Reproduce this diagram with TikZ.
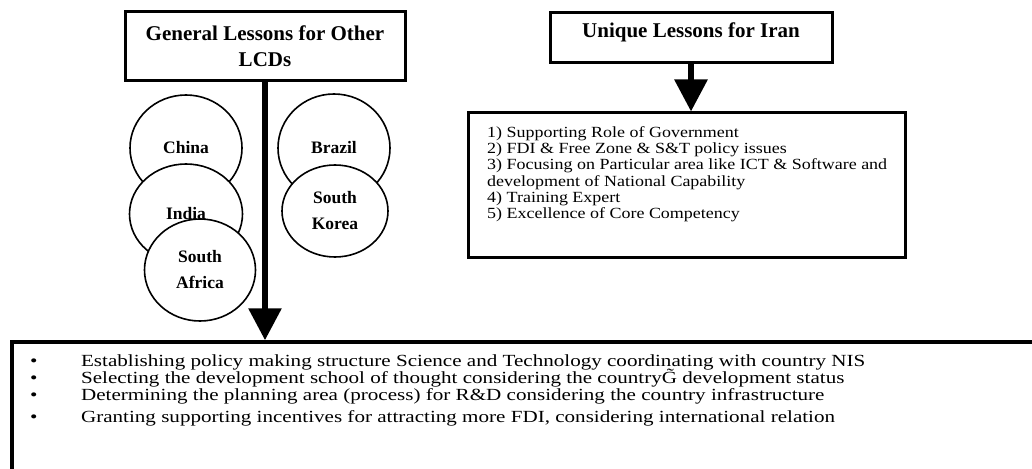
\documentclass[tikz,border=0pt]{standalone}
\usepackage{fontspec}
\setmainfont{Liberation Serif}
\usetikzlibrary{arrows.meta,shapes.geometric}

\newcommand\tightlines{\lineskiplimit=-\maxdimen\lineskip=0pt\relax}

\tikzset{
  titlebox/.style={draw, line width=3pt, align=center, inner sep=0pt,
    font=\fontsize{21}{26}\selectfont\bfseries},
  country/.style={ellipse, draw, fill=white, line width=1.6pt, align=center,
    inner sep=0pt, font=\fontsize{17.5}{26}\selectfont\bfseries},
  framebox/.style={draw, line width=3pt, inner sep=0pt},
  boxtext/.style={anchor=north west, inner sep=0pt, align=left, transform shape},
  bigarrow/.style={line width=6pt, -{Triangle[width=32pt,length=32pt]}},
}

\begin{document}
\begin{tikzpicture}[x=1pt, y=-1pt]
  \clip (0,0) rectangle (1032,468);

  % top boxes
  \node[titlebox, minimum width=280pt, minimum height=69pt] (lcd) at (265,46.5)
    {General Lessons for Other\\LCDs};
  \node[titlebox, minimum width=282pt, minimum height=50pt, text depth=16pt] (iran) at (691,38)
    {Unique Lessons for Iran};

  % unique lessons list
  \node[framebox, minimum width=437pt, minimum height=144pt] (uniq) at (686.5,185) {};
  \node[boxtext, xscale=1.16, font=\fontsize{15.5}{16.3}\selectfont\tightlines] (items) at (487,126)
    {1) Supporting Role of Government\\
     2) FDI \& Free Zone \& S\&T policy issues\\
     3) Focusing on Particular area like ICT \& Software and\\
     development of National Capability\\
     4) Training Expert\\
     5) Excellence of Core Competency};

  % countries
  \node[country, minimum width=112pt, minimum height=106pt] (china) at (186,148) {China};
  \node[country, minimum width=113pt, minimum height=100pt] (india) at (186,214) {India};
  \node[country, minimum width=111pt, minimum height=102pt] (safrica) at (200,270) {South\\Africa};
  \node[country, minimum width=112pt, minimum height=108pt] (brazil) at (334,148) {Brazil};
  \node[country, minimum width=106pt, minimum height=92pt] (skorea) at (335,211) {South\\Korea};

  % general lessons
  \node[framebox, line width=3.5pt, minimum width=1033pt, minimum height=138pt] (lessons) at (528.5,411) {};
  \node[boxtext, xscale=1.24, font=\fontsize{17}{16.5}\selectfont\tightlines] (points) at (30,355)
    {\makebox[41pt][l]{\textbullet}Establishing policy making structure Science and Technology coordinating with country NIS\\
     \makebox[41pt][l]{\textbullet}Selecting the development school of thought considering the country\~{G} development status\\
     \makebox[41pt][l]{\textbullet}Determining the planning area (process) for R\&D considering the country infrastructure\\[5.5pt]
     \makebox[41pt][l]{\textbullet}Granting supporting incentives for attracting more FDI, considering international relation};

  % arrows
  \draw[bigarrow] (lcd.south) -- (lcd.south |- lessons.north);
  \draw[bigarrow] (iran.south) -- (iran.south |- uniq.north);
\end{tikzpicture}
\end{document}
